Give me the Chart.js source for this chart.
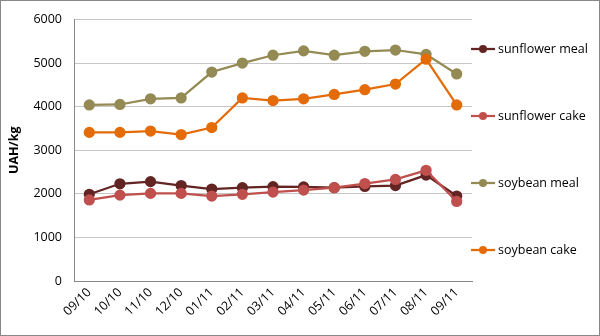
<!DOCTYPE html>
<html>
<head>
<meta charset="utf-8">
<script src="https://cdn.jsdelivr.net/npm/chart.js@4/dist/chart.umd.min.js"></script>
<style>
  html, body { margin: 0; padding: 0; background: #fff; }
  #wrap { width: 600px; height: 336px; position: relative; }
</style>
</head>
<body>
<div id="wrap"><canvas id="c" width="600" height="336"></canvas></div>
<script>
// Monthly prices, UAH/kg
const months = ['09/10','10/10','11/10','12/10','01/11','02/11','03/11','04/11','05/11','06/11','07/11','08/11','09/11'];
const sunflowerMeal = [1990, 2230, 2280, 2190, 2110, 2140, 2165, 2160, 2140, 2170, 2190, 2430, 1950];
const sunflowerCake = [1860, 1970, 2010, 2010, 1950, 1990, 2040, 2085, 2140, 2235, 2330, 2540, 1825];
const soybeanMeal   = [4040, 4050, 4180, 4200, 4795, 5000, 5180, 5280, 5180, 5270, 5300, 5200, 4750];
const soybeanCake   = [3410, 3410, 3440, 3360, 3520, 4200, 4140, 4180, 4280, 4390, 4520, 5090, 4040];
const yTicks = [0, 1000, 2000, 3000, 4000, 5000, 6000];

const FONT = '"Open Sans", "Liberation Sans", sans-serif';

function series(label, data, color, order) {
  return {
    label, data, order,
    borderColor: color, backgroundColor: color,
    pointBackgroundColor: color, pointBorderColor: color,
    borderWidth: 2.25, pointRadius: 4.5, pointHoverRadius: 4.5,
    tension: 0
  };
}

// Legend stacked down the right side with wide spacing, plus outer frame
const sideLegend = {
  id: 'sideLegend',
  afterDraw(chart) {
    const ctx = chart.ctx;
    ctx.save();
    const ys = [49, 116, 183, 250];
    chart.data.datasets.forEach((ds, i) => {
      const y = ys[i];
      ctx.strokeStyle = ds.borderColor;
      ctx.lineWidth = 2.25;
      ctx.beginPath();
      ctx.moveTo(471, y);
      ctx.lineTo(495, y);
      ctx.stroke();
      ctx.fillStyle = ds.borderColor;
      ctx.beginPath();
      ctx.arc(483, y, 4, 0, Math.PI * 2);
      ctx.fill();
      ctx.fillStyle = '#000';
      ctx.font = '12.5px ' + FONT;
      ctx.textBaseline = 'middle';
      ctx.textAlign = 'left';
      ctx.fillText(ds.label, 498, y);
    });
    ctx.strokeStyle = '#888';
    ctx.lineWidth = 1;
    ctx.strokeRect(0.5, 0.5, chart.width - 1, chart.height - 1);
    ctx.restore();
  }
};

new Chart(document.getElementById('c'), {
  type: 'line',
  data: {
    labels: months,
    datasets: [
      series('sunflower meal', sunflowerMeal, '#632523', 4),
      series('sunflower cake', sunflowerCake, '#c0504d', 3),
      series('soybean meal', soybeanMeal, '#948a54', 2),
      series('soybean cake', soybeanCake, '#e36c09', 1)
    ]
  },
  options: {
    responsive: false,
    animation: false,
    devicePixelRatio: 1,
    layout: { padding: { left: 0, top: 17, right: 128, bottom: 0 } },
    plugins: {
      legend: { display: false },
      tooltip: { enabled: false }
    },
    scales: {
      x: {
        offset: true,
        grid: { display: false, drawTicks: false },
        border: { display: true, color: '#868686', width: 1 },
        ticks: {
          color: '#000',
          font: { family: FONT, size: 12.5 },
          maxRotation: 45, minRotation: 45,
          padding: 4,
          autoSkip: false
        },
        afterFit(scale) { scale.height = 55; }
      },
      y: {
        min: 0, max: 6000,
        afterBuildTicks(scale) { scale.ticks = yTicks.map(v => ({ value: v })); },
        grid: { color: '#c6c6c6', lineWidth: 1, drawTicks: false },
        border: { display: true, color: '#868686', width: 1 },
        ticks: {
          color: '#000',
          font: { family: FONT, size: 12.5 },
          padding: 12,
          callback: (v) => String(v)
        },
        title: {
          display: true,
          text: 'UAH/kg',
          color: '#000',
          font: { family: FONT, size: 12.5, weight: 'bold' },
          padding: { top: 7, bottom: 4 }
        },
        afterFit(scale) { scale.width = 74; }
      }
    }
  },
  plugins: [sideLegend]
});
</script>
</body>
</html>
